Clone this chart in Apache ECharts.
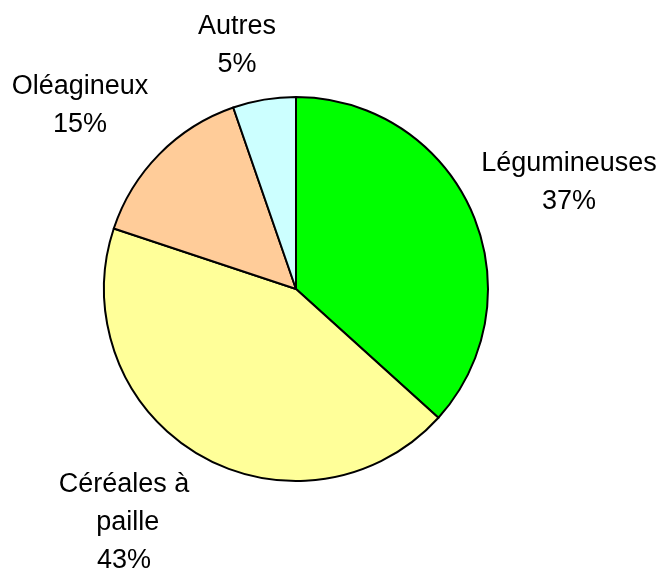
<!DOCTYPE html>
<html>
<head>
<meta charset="utf-8">
<script src="https://cdn.jsdelivr.net/npm/echarts@6/dist/echarts.min.js"></script>
<style>
  html, body { margin: 0; padding: 0; background: #fff; }
  #chart { width: 664px; height: 572px; }
</style>
</head>
<body>
<div id="chart"></div>
<script>
    // données (parts en %)
    var categories = ['Légumineuses', 'Céréales à paille', 'Oléagineux', 'Autres'];
    var values = [36.7, 43.4, 14.6, 5.3];
    var colors = ['#00FF00', '#FFFF99', '#FFCC99', '#CCFFFF'];

    // position des étiquettes (centre du bloc de texte)
    var labelPos = [[569, 183], [124, 523], [80, 106], [237, 46]];

    var chart = echarts.init(document.getElementById('chart'));

    var seriesData = [];
    for (var i = 0; i < categories.length; i++) {
        var item = {
            name: categories[i],
            value: values[i],
            itemStyle: { color: colors[i] }
        };
        if (i == 1) {
            item.label = { width: 170, overflow: 'break' };
        }
        seriesData.push(item);
    }

    var option = {
        animation: false,
        series: [
            {
                type: 'pie',
                center: [296, 289],
                radius: 192,
                startAngle: 90,
                clockwise: true,
                avoidLabelOverlap: false,
                itemStyle: {
                    borderColor: '#000',
                    borderWidth: 2
                },
                label: {
                    show: true,
                    position: 'outside',
                    color: '#000',
                    fontFamily: 'Liberation Sans, Arial, sans-serif',
                    fontSize: 27,
                    lineHeight: 38,
                    align: 'center',
                    formatter: function (p) {
                        return p.name + '\n' + Math.round(p.percent) + '%';
                    }
                },
                labelLine: { show: false },
                labelLayout: function (params) {
                    var pos = labelPos[params.dataIndex];
                    return {
                        x: pos[0],
                        y: pos[1],
                        align: 'center',
                        verticalAlign: 'middle'
                    };
                },
                emphasis: { disabled: true },
                data: seriesData
            }
        ]
    };

    chart.setOption(option);
</script>
</body>
</html>
